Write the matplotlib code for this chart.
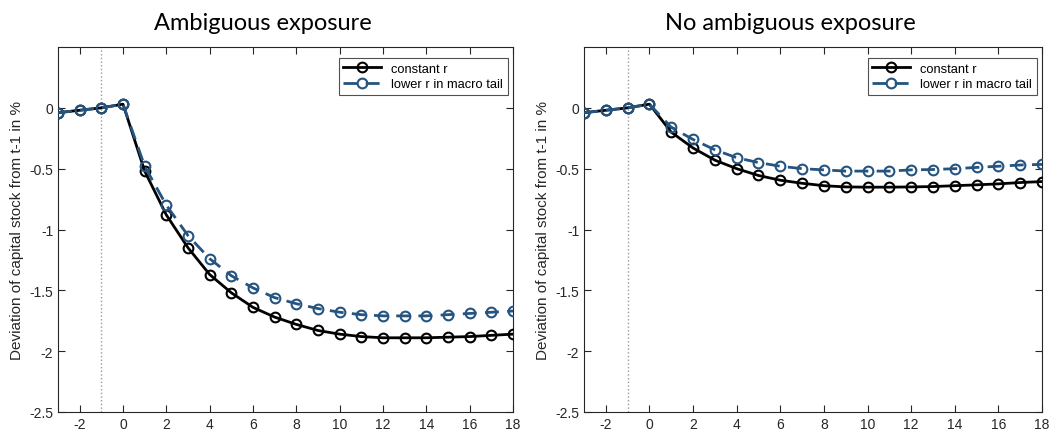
import numpy as np
import matplotlib.pyplot as plt

# Horizonte (periodos)
periods = list(range(-3, 19))

# Panel izquierdo: exposición ambigua
amb_const = [-0.04, -0.02, 0.0, 0.03, -0.52, -0.88, -1.15, -1.37, -1.52, -1.64, -1.72,
             -1.78, -1.83, -1.86, -1.88, -1.89, -1.89, -1.89, -1.885, -1.88, -1.87, -1.86]
amb_lower = [-0.04, -0.02, 0.0, 0.03, -0.48, -0.80, -1.05, -1.24, -1.38, -1.48, -1.56,
             -1.61, -1.65, -1.68, -1.70, -1.71, -1.71, -1.71, -1.70, -1.69, -1.68, -1.67]

# Panel derecho: sin exposición ambigua
noamb_const = [-0.04, -0.02, 0.0, 0.03, -0.20, -0.33, -0.43, -0.50, -0.556, -0.595, -0.62,
               -0.64, -0.65, -0.652, -0.652, -0.65, -0.647, -0.64, -0.633, -0.625, -0.614, -0.606]
noamb_lower = [-0.04, -0.02, 0.0, 0.03, -0.16, -0.26, -0.345, -0.41, -0.45, -0.48, -0.50,
               -0.51, -0.52, -0.52, -0.52, -0.51, -0.507, -0.50, -0.49, -0.48, -0.47, -0.465]

titles = ['Ambiguous exposure', 'No ambiguous exposure']
labels = ['constant r', 'lower r in macro tail']
blue = '#24547f'

plt.rcParams['font.family'] = ['Liberation Sans', 'DejaVu Sans']
plt.rcParams['axes.unicode_minus'] = False

fig = plt.figure(figsize=(10.57, 4.35), dpi=100)
axes = [fig.add_axes([58/1057, 22/435, 455/1057, 365/435]),
        fig.add_axes([584/1057, 22/435, 458/1057, 365/435])]

data = [(amb_const, amb_lower), (noamb_const, noamb_lower)]
for ax, (c, l), title in zip(axes, data, titles):
    ax.axvline(-1, color='#999999', linestyle=':', linewidth=1)
    ax.plot(periods, c, color='black', linewidth=2, marker='o', markersize=7,
            markerfacecolor='none', markeredgewidth=1.5, label=labels[0], zorder=3)
    ax.plot(periods, l, color=blue, linewidth=2, linestyle=(0, (5, 3)), marker='o', markersize=7,
            markerfacecolor='none', markeredgewidth=1.5, label=labels[1], zorder=4)
    ax.set_xlim(-3, 18)
    ax.set_ylim(-2.5, 0.5)
    ax.set_xticks(range(-2, 19, 2))
    ax.set_yticks(np.arange(-2.5, 0.01, 0.5))
    ax.set_yticklabels(['-2.5', '-2', '-1.5', '-1', '-0.5', '0'])
    ax.tick_params(direction='in', top=True, right=True, labelsize=10, colors='#262626',
                   length=5, width=0.8)
    for s in ax.spines.values():
        s.set_color('#262626')
        s.set_linewidth(0.8)
    ax.set_ylabel('Deviation of capital stock from t-1 in %', fontsize=11, color='#262626', labelpad=4)
    ax.set_title(title, fontsize=17, family='Lato', pad=13, x=0.45)
    leg = ax.legend(loc='upper right', bbox_to_anchor=(0.988, 0.97), fontsize=9.3,
                    frameon=True, fancybox=False, edgecolor='#262626', borderaxespad=0,
                    handlelength=2.9, handletextpad=0.8, labelspacing=0.3, borderpad=0.35)
    leg.get_frame().set_linewidth(0.8)

fig.savefig('out.png', dpi=100)
